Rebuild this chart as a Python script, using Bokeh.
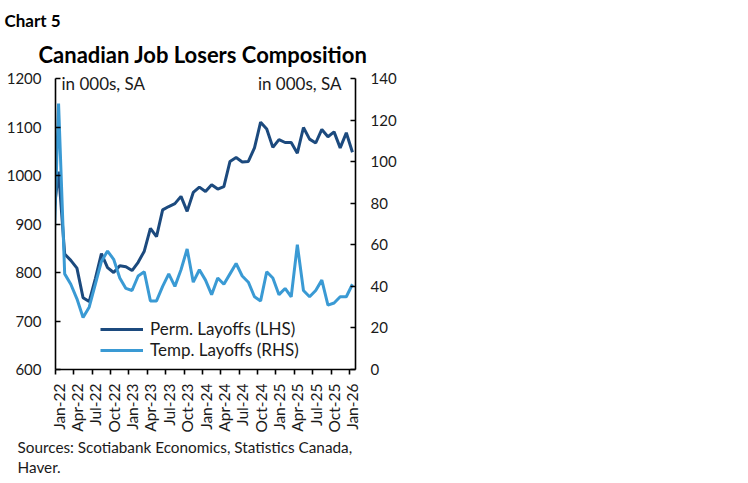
import math
import pandas as pd
from bokeh.plotting import figure
from bokeh.models import (Range1d, LinearAxis, FixedTicker, Label, Legend,
                          LegendItem, ColumnDataSource, Title)
from bokeh.embed import file_html
from bokeh.resources import INLINE

# ---- data (000s, SA) ----
months = ["Dec-21"] + [d.strftime("%b-%y") for d in
                       pd.date_range("2022-01-01", "2026-01-01", freq="MS")]
perm_layoffs = [900,
                1008, 838, 825, 809, 748, 740, 787, 839, 810, 800, 814, 812,
                804, 821, 844, 891, 874, 929, 936, 942, 957, 926, 965, 976,
                967, 981, 972, 977, 1029, 1037, 1028, 1029, 1057, 1110, 1096, 1058,
                1074, 1068, 1068, 1046, 1099, 1075, 1067, 1095, 1080, 1090, 1057, 1088,
                1048]
temp_layoffs = [35,
                128, 46, 41, 34, 25, 30, 41, 52, 57, 53, 44, 39,
                38, 45, 47, 33, 33, 40, 46, 40, 48, 58, 42, 48,
                43, 36, 44, 41, 46, 51, 45, 42, 35, 33, 47, 44,
                36, 39, 35, 60, 38, 35, 38, 43, 31, 32, 35, 35,
                41]
tick_labels = ["Jan-22", "Apr-22", "Jul-22", "Oct-22", "Jan-23", "Apr-23",
               "Jul-23", "Oct-23", "Jan-24", "Apr-24", "Jul-24", "Oct-24",
               "Jan-25", "Apr-25", "Jul-25", "Oct-25", "Jan-26"]
left_ticks = [600, 700, 800, 900, 1000, 1100, 1200]
right_ticks = [0, 20, 40, 60, 80, 100, 120, 140]

idx = list(range(-1, len(months) - 1))  # Dec-21 = -1, Jan-22 = 0
src = ColumnDataSource(dict(x=idx, perm=perm_layoffs, temp=temp_layoffs, m=months))

DARK = "#1c4a7e"
LIGHT = "#3a9ad4"
FONT = "Lato"
TXT = "#1a1a1a"

# frame extends a little above the top tick so the unit labels are not clipped
ext = 10 / 291
l_lo, l_hi = left_ticks[0], left_ticks[-1]
r_lo, r_hi = right_ticks[0], right_ticks[-1]

p = figure(width=400, height=483, output_backend="svg", toolbar_location=None,
           x_range=Range1d(-0.5, 48.5),
           y_range=Range1d(l_lo, l_hi + (l_hi - l_lo) * ext),
           min_border_left=55, min_border_right=45, min_border_top=68,
           min_border_bottom=114)
p.outline_line_color = None
p.grid.visible = False
p.background_fill_color = "white"
p.border_fill_color = "white"

# left axis
ly = p.yaxis[0]
ly.ticker = FixedTicker(ticks=left_ticks)
ly.bounds = (l_lo, l_hi)
# right axis
p.extra_y_ranges = {"r": Range1d(r_lo, r_hi + (r_hi - r_lo) * ext)}
ry = LinearAxis(y_range_name="r", ticker=FixedTicker(ticks=right_ticks),
                bounds=(r_lo, r_hi))
p.add_layout(ry, "right")
for ax in (ly, ry):
    ax.major_tick_in = 5
    ax.major_tick_out = 0
    ax.minor_tick_in = 0
    ax.minor_tick_out = 0
    ax.axis_line_width = 1.6
    ax.axis_line_color = "black"
    ax.major_tick_line_width = 1.6
    ax.major_tick_line_color = "black"
    ax.major_label_text_font = FONT
    ax.major_label_text_font_size = "15px"
    ax.major_label_text_color = TXT
ly.major_label_standoff = 14
ry.major_label_standoff = 15

# bottom axis
xa = p.xaxis[0]
major = [3 * k for k in range(len(tick_labels))]
xa.ticker = FixedTicker(ticks=major, minor_ticks=[t - 0.5 for t in major])
xa.major_label_overrides = {t: lab for t, lab in zip(major, tick_labels)}
xa.major_tick_in = 0
xa.major_tick_out = 0
xa.minor_tick_in = 0
xa.minor_tick_out = 5
xa.minor_tick_line_width = 1.6
xa.minor_tick_line_color = "black"
xa.axis_line_width = 1.6
xa.axis_line_color = "black"
xa.major_label_orientation = math.pi / 2
xa.major_label_standoff = 9
xa.major_label_text_font = FONT
xa.major_label_text_font_size = "15.5px"
xa.major_label_text_color = TXT

r1 = p.line("x", "perm", source=src, line_color=DARK, line_width=3)
r2 = p.line("x", "temp", source=src, y_range_name="r", line_color=LIGHT, line_width=3)

legend = Legend(items=[LegendItem(label="Perm. Layoffs (LHS)", renderers=[r1]),
                       LegendItem(label="Temp. Layoffs (RHS)", renderers=[r2])],
                location=(45, 9), border_line_color=None, background_fill_alpha=0,
                label_text_font=FONT, label_text_font_size="17px",
                label_text_color=TXT, glyph_width=43, glyph_height=20,
                label_height=20, spacing=0, padding=0, margin=0, label_standoff=7)
p.add_layout(legend)

def lab(x, y, text, size, align="left"):
    p.add_layout(Label(x=x, y=y, x_units="screen", y_units="screen", text=text,
                       text_font=FONT, text_font_size=size, text_color=TXT,
                       text_align=align, text_baseline="alphabetic"))

lab(6, 286, "in 000s, SA", "17px")
lab(286, 286, "in 000s, SA", "17px", align="right")

def title(text, place, size, bold, align, offset, standoff):
    p.add_layout(Title(text=text, text_font=FONT, text_font_size=size,
                       text_font_style="bold" if bold else "normal",
                       text_color="black" if bold else TXT, align=align,
                       offset=offset, standoff=standoff), place)

title("Canadian Job Losers Composition", "above", "22px", True, "left", -17, 2)
title("Chart 5", "above", "17px", True, "left", -51, 14)
title("Sources: Scotiabank Economics, Statistics Canada,", "below", "15.3px", False, "left", -38, 0)
title("Haver.", "below", "15.3px", False, "left", -38, 0)

open("out.html", "w").write(file_html(p, INLINE))
